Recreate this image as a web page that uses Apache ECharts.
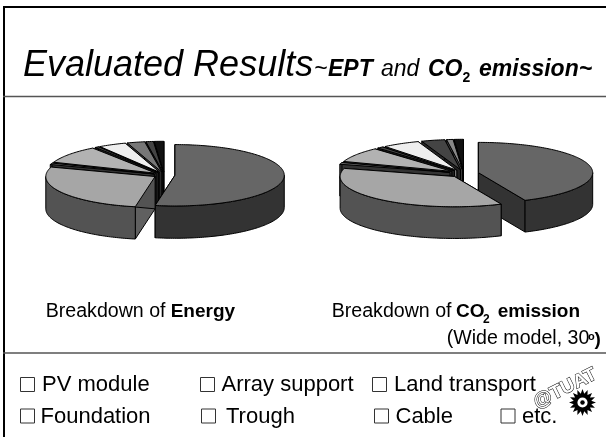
<!DOCTYPE html>
<html>
<head>
<meta charset="utf-8">
<style>html,body{margin:0;padding:0;background:#fff}#main{width:606px;height:437px}</style>
<script src="https://cdn.jsdelivr.net/npm/echarts@6/dist/echarts.min.js"></script>
</head>
<body>
<div id="main"></div>
<script>
// slices, clockwise from 12 o'clock (percent)
const sliceNames = ['PV module', 'Array support', 'Land transport', 'Foundation', 'Trough', 'Cable', 'etc.', 'etc.', 'etc.'];
const energyShares = [52.9, 27.1, 0.8, 9.4, 0.6, 4.1, 2.6, 1.1, 1.4];
const co2Shares = [43.3, 36.0, 1.0, 8.0, 0.9, 5.3, 3.3, 0.9, 1.3];
const energyColors = ['#666666', '#a6a6a6', '#666666', '#b2b2b2', '#444444', '#eeeeee', '#777777', '#444444', '#111111'];
const co2Colors = ['#666666', '#a6a6a6', '#666666', '#b2b2b2', '#444444', '#eeeeee', '#444444', '#888888', '#111111'];
const legendRow1 = ['PV module', 'Array support', 'Land transport'];
const legendRow2 = ['Foundation', 'Trough', 'Cable', 'etc.'];

const FONT = '"Liberation Sans", Arial, sans-serif';
const chart = echarts.init(document.getElementById('main'), null, { renderer: 'canvas' });

function shade(c, k) {
  const p = echarts.color.parse(c);
  return 'rgb(' + Math.round(p[0] * k) + ',' + Math.round(p[1] * k) + ',' + Math.round(p[2] * k) + ')';
}

function pieSeries(name, shares, colors, geo) {
  const starts = [];
  let sum = 0;
  shares.forEach(v => { starts.push(sum); sum += v; });
  const ky = geo.ry / geo.rx;

  return {
    type: 'custom',
    name: name,
    coordinateSystem: 'none',
    silent: true,
    clip: false,
    data: shares.map((v, i) => ({ name: sliceNames[i], value: v })),
    renderItem: function (params, api) {
      const i = params.dataIndex;
      const a0 = starts[i] / sum * Math.PI * 2;
      const a1 = (starts[i] + api.value(0)) / sum * Math.PI * 2;
      const mid = (a0 + a1) / 2;
      // exploded centre of this slice
      const ox = geo.cx + geo.d * Math.sin(mid);
      const oy = geo.cy - geo.d * Math.cos(mid) * ky;
      const rim = a => [ox + geo.rx * Math.sin(a), oy - geo.ry * Math.cos(a)];
      const down = p => [p[0], p[1] + geo.depth];
      const arc = (s, e) => {
        const n = Math.max(2, Math.ceil((e - s) / 0.02));
        const pts = [];
        for (let k = 0; k <= n; k++) pts.push(rim(s + (e - s) * k / n));
        return pts;
      };

      const top = colors[i];
      const side = shade(top, 0.5);
      const cut = shade(top, 0.58);
      // back slices first
      const rank = Math.round((1 - Math.cos(mid)) * 100) * 4;
      const line = { stroke: '#000', lineWidth: 1, lineJoin: 'round' };
      const apex = [ox, oy];
      const kids = [];
      const wall = (p, fill) => kids.push({
        type: 'polygon', z2: rank,
        shape: { points: [apex, p, down(p), down(apex)] },
        style: Object.assign({ fill: fill }, line)
      });
      wall(rim(a0), cut);
      wall(rim(a1), side);

      // outer wall, front half only
      const s = Math.max(a0, Math.PI / 2), e = Math.min(a1, Math.PI * 1.5);
      if (e > s) {
        const edge = arc(s, e);
        kids.push({
          type: 'polygon', z2: rank + 1,
          shape: { points: edge.concat(edge.map(down).reverse()) },
          style: Object.assign({ fill: side }, line)
        });
      }
      kids.push({
        type: 'polygon', z2: rank + 2,
        shape: { points: [apex].concat(arc(a0, a1)) },
        style: Object.assign({ fill: top }, line)
      });
      return { type: 'group', children: kids };
    }
  };
}

// y is the text baseline
function txt(x, y, text, size, opt) {
  return {
    type: 'text', x: x, y: y + size * 0.15, silent: true,
    style: Object.assign({
      text: text, fontFamily: FONT, fontSize: size, fill: '#000',
      verticalAlign: 'bottom', align: 'left'
    }, opt || {})
  };
}
function hline(y, color, w) {
  return { type: 'line', silent: true, shape: { x1: 3, y1: y, x2: 606, y2: y }, style: { stroke: color, lineWidth: w } };
}
function legendItem(x, boxX, y, label) {
  return [
    { type: 'rect', silent: true, shape: { x: boxX + 0.5, y: y - 15.5, width: 14, height: 14 }, style: { fill: '#fff', stroke: '#333', lineWidth: 1 } },
    txt(x, y, label, 22)
  ];
}
function gear(cx, cy, r0, r1, n) {
  const pts = [];
  for (let i = 0; i < n * 2; i++) {
    const a = i * Math.PI / n, r = i % 2 ? r0 : r1;
    pts.push([cx + r * Math.cos(a), cy + r * Math.sin(a)]);
  }
  return [
    { type: 'polygon', silent: true, shape: { points: pts }, style: { fill: '#000' } },
    { type: 'circle', silent: true, shape: { cx: cx, cy: cy, r: r0 * 0.65 }, style: { fill: '#fff', stroke: '#000', lineWidth: 1.5 } },
    { type: 'circle', silent: true, shape: { cx: cx, cy: cy, r: r0 * 0.25 }, style: { fill: '#000' } }
  ];
}

const rowX1 = [[42, 20], [221.5, 200], [394, 372]];
const rowX2 = [[40.5, 20], [226, 201], [395.5, 374], [522, 500.5]];

const bold = { fontWeight: 'bold' };
const italic = { fontStyle: 'italic' };
const boldItalic = { fontStyle: 'italic', fontWeight: 'bold' };
const graphics = [
  hline(7, '#000', 2),
  { type: 'line', silent: true, shape: { x1: 4, y1: 6, x2: 4, y2: 437 }, style: { stroke: '#000', lineWidth: 2 } },
  hline(96.5, '#555', 1.5),
  hline(353, '#555', 1.5),
  txt(23, 78.5, 'Evaluated Results', 36, italic),
  txt(314, 77.5, '~', 23, italic),
  txt(328, 77.5, 'EPT', 23, boldItalic),
  txt(381, 77.5, 'and', 23, italic),
  txt(428, 77.5, 'CO', 23, boldItalic),
  txt(462.5, 83, '2', 14, bold),
  txt(479, 77.5, 'emission~', 23, boldItalic),
  txt(45.7, 318.5, 'Breakdown of', 19.6),
  txt(170.7, 318.5, 'Energy', 19, bold),
  txt(331.7, 318.5, 'Breakdown of', 19.6),
  txt(456, 318.5, 'CO', 19, bold),
  txt(483, 323.5, '2', 12, bold),
  txt(497.7, 318.5, 'emission', 19, bold),
  txt(446.7, 346, '(Wide model, 30', 19.6),
  txt(588, 340.5, 'o', 11, bold),
  txt(594.5, 346, ')', 19, bold),
  { type: 'text', silent: true, x: 539, y: 412, rotation: 0.46, style: { text: '@TUAT', fontFamily: FONT, fontSize: 19, fontWeight: 'bold', fill: '#fff', stroke: '#000', lineWidth: 1, verticalAlign: 'bottom' } }
];
legendRow1.forEach((l, i) => graphics.push(...legendItem(rowX1[i][0], rowX1[i][1], 393, l)));
legendRow2.forEach((l, i) => graphics.push(...legendItem(rowX2[i][0], rowX2[i][1], 424.5, l)));
graphics.push(...gear(582.5, 402.5, 9, 13.5, 16));

chart.setOption({
  animation: false,
  backgroundColor: '#fff',
  graphic: graphics,
  series: [
    pieSeries('Energy', energyShares, energyColors, { cx: 164.3, cy: 175, rx: 109.3, ry: 30.7, depth: 32.3, d: 10.7 }),
    pieSeries('CO2 emission', co2Shares, co2Colors, { cx: 464, cy: 173.5, rx: 114.3, ry: 30.3, depth: 31.7, d: 14.7 })
  ]
});
</script>
</body>
</html>
